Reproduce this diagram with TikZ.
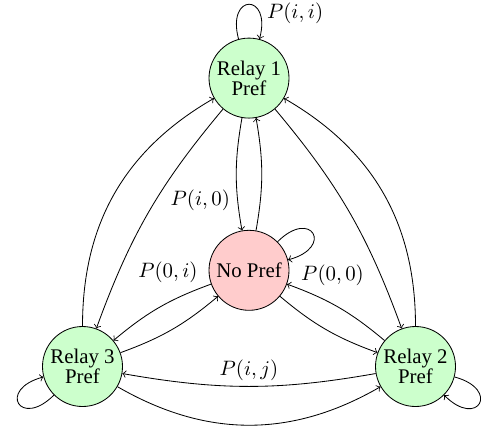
\documentclass[tikz,border=0pt]{standalone}
\usepackage[no-math]{fontspec}
\setmainfont{Liberation Serif}
\begin{document}
\begin{tikzpicture}[x=0.48pt,y=0.48pt,
  state/.style={circle,draw,minimum size=38.4pt,inner sep=0pt,align=center,
    font=\fontsize{10pt}{9.75pt}\selectfont},
  relay/.style={state,fill=green!20},
  nopref/.style={state,fill=red!20},
  trans/.style={->},
  selfloop/.style={->,distance=23pt}]
\useasboundingbox (0,0) rectangle (482,430);
\node[relay] (r1) at (249,351.9) {Relay 1\\Pref};
\node[nopref] (np) at (249,159.7) {No Pref};
\node[relay] (r3) at (82.5,63.5) {Relay 3\\Pref};
\node[relay] (r2) at (415.5,63.5) {Relay 2\\Pref};
% relay 1 <-> no pref
\draw[trans] (r1) to[bend right=10] node[pos=0.72,left,yshift=-1.5pt] {$P(i,0)$} (np);
\draw[trans] (np) to[bend right=10] (r1);
% relay 1 <-> relay 3
\draw[trans] (r3) to[bend left=30] (r1);
\draw[trans] (r1) to[bend right=10] (r3);
% relay 1 <-> relay 2
\draw[trans] (r2) to[bend right=30] (r1);
\draw[trans] (r1) to[bend left=10] (r2);
% relay 3 <-> relay 2
\draw[trans] (r3) to[bend right=30] (r2);
\draw[trans] (r2) to[bend left=10] node[above,yshift=-1pt] {$P(i,j)$} (r3);
% no pref <-> relay 3
\draw[trans] (np) to[bend right=10] node[pos=0.05,above left,yshift=-2pt] {$P(0,i)$} (r3);
\draw[trans] (r3) to[bend right=10] (np);
% no pref <-> relay 2
\draw[trans] (np) to[bend right=10] (r2);
\draw[trans] (r2) to[bend right=10] (np);
% self loops
\draw[selfloop] (r1) to[out=105,in=75] node[pos=0.75,right] {$P(i,i)$} (r1);
\draw[selfloop] (np) to[out=45,in=15] node[pos=1,anchor=west,xshift=2.8pt,yshift=-7.6pt] {$P(0,0)$} (np);
\draw[selfloop] (r3) to[out=225,in=195] (r3);
\draw[selfloop] (r2) to[out=-15,in=-45] (r2);
\end{tikzpicture}
\end{document}
